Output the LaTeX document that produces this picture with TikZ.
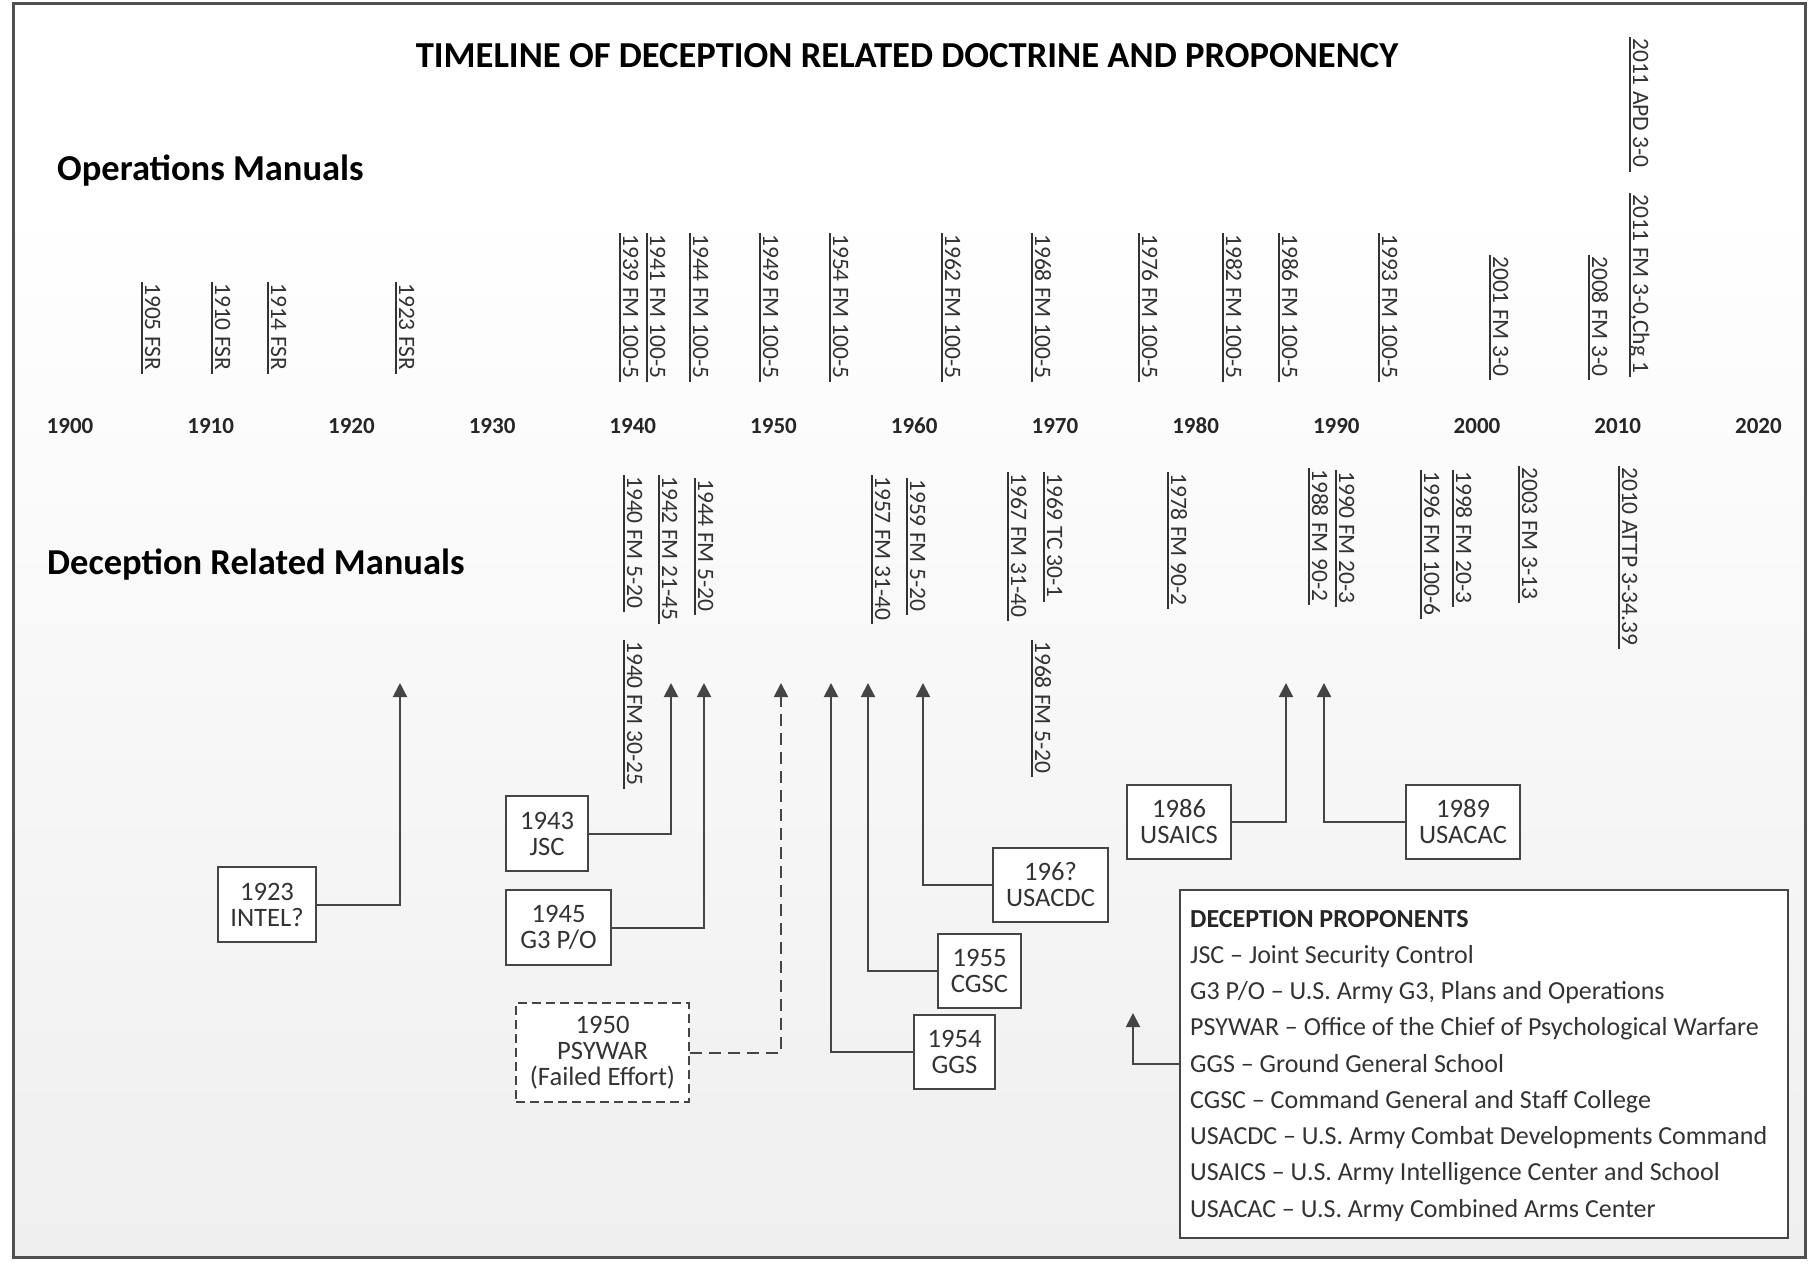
\documentclass[tikz,border=0pt]{standalone}
\usepackage{fontspec}
\setmainfont{Carlito}
\usetikzlibrary{arrows.meta}
\definecolor{linec}{HTML}{454545}
\definecolor{txt}{HTML}{333333}
\definecolor{framec}{HTML}{505050}
\definecolor{bgb}{HTML}{EFEFEF}
\newcommand{\myul}[1]{\setbox0=\hbox{#1}\rlap{\hskip-1pt\color{txt}\rule[-3.6pt]{\dimexpr\wd0+5pt\relax}{1.3pt}}\box0}
\begin{document}
\begin{tikzpicture}[x=1pt,y=-1pt,
  vlab/.style={rotate=-90, inner sep=0pt, anchor=base west, text=txt, font=\fontsize{23.5}{26}\selectfont},
  yearlab/.style={inner sep=0pt, anchor=base, text=black!85, font=\bfseries\fontsize{23}{26}\selectfont},
  hdr/.style={inner sep=0pt, anchor=base west, font=\bfseries\fontsize{36.5}{40}\selectfont},
  pbox/.style={draw=linec, line width=2pt, fill=white, inner sep=0pt, align=center, text=txt, font=\fontsize{26.6}{26}\selectfont},
  arr/.style={draw=linec, line width=2pt, -{Triangle[width=14pt,length=14pt]}},
  dasharr/.style={arr, dash pattern=on 12pt off 7pt},
  legline/.style={inner sep=0pt, anchor=base west, text=txt, font=\fontsize{26}{28}\selectfont}
]
\useasboundingbox (0,0) rectangle (1817,1271);
\fill[white] (0,0) rectangle (1817,1271);
\fill[white] (13,4) rectangle (1805,200);
\shade[top color=white, bottom color=bgb] (13,200) rectangle (1805,1257);
\draw[framec, line width=3pt] (13,4) rectangle (1805,1257);

% titles
\node[inner sep=0pt, anchor=base, font=\bfseries\fontsize{36.6}{40}\selectfont] (title) at (907,68) {TIMELINE OF DECEPTION RELATED DOCTRINE AND PROPONENCY};
\node[hdr] (opsT) at (57,180) {Operations Manuals};
\node[hdr] (decT) at (47,574) {Deception Related Manuals};

% year axis
\foreach \yr in {1900,1910,...,2020}
  \node[yearlab] (yr\yr) at ({70+14.07*(\yr-1900)},433) {\yr};

% operations manuals
\foreach \x/\y/\t [count=\i] in {142/283/1905 FSR, 212/283/1910 FSR, 268/283/1914 FSR, 396/283/1923 FSR,
  620/234/1939 FM 100-5, 647/234/1941 FM 100-5, 690/234/1944 FM 100-5, 760/234/1949 FM 100-5,
  830/234/1954 FM 100-5, 942/234/1962 FM 100-5, 1032/234/1968 FM 100-5, 1139/234/1976 FM 100-5,
  1223/234/1982 FM 100-5, 1279/234/1986 FM 100-5, 1379/234/1993 FM 100-5,
  1490/256/2001 FM 3-0, 1589/256/2008 FM 3-0, 1630/38/2011 APD 3-0}
  \node[vlab] (op\i) at (\x+3,\y) {\myul{\t}};
\node[vlab] (opchg) at (1633,194) {\myul{2011 FM 3-0,Chg 1}};

% deception related manuals
\foreach \x/\y/\t [count=\i] in {624/476/1940 FM 5-20, 659/476/1942 FM 21-45, 695/479/1944 FM 5-20,
  872/476/1957 FM 31-40, 907/479/1959 FM 5-20, 1008/473/1967 FM 31-40, 1044/473/1969 TC 30-1,
  1168/473/1978 FM 90-2, 1309/469/1988 FM 90-2, 1336/471/1990 FM 20-3, 1421/471/1996 FM 100-6,
  1453/471/1998 FM 20-3, 1519/467/2003 FM 3-13, 1619/467/2010 ATTP 3-34.39,
  624/641/1940 FM 30-25, 1032/641/1968 FM 5-20}
  \node[vlab] (dm\i) at (\x+3,\y) {\myul{\t}};

% proponent boxes
\node[pbox, minimum width=98pt, minimum height=75pt] (intel) at (267,904.5) {1923\\INTEL?};
\node[pbox, minimum width=82pt, minimum height=75pt] (jsc) at (547,833.5) {1943\\JSC};
\node[pbox, minimum width=105pt, minimum height=75pt] (gthree) at (558.5,927.5) {1945\\G3 P/O};
\node[pbox, dash pattern=on 9pt off 5pt, minimum width=173pt, minimum height=99pt] (psywar) at (602.5,1052.5) {1950\\PSYWAR\\(Failed Effort)};
\node[pbox, minimum width=81pt, minimum height=74pt] (ggs) at (954.5,1052) {1954\\GGS};
\node[pbox, minimum width=83pt, minimum height=74pt] (cgsc) at (979.5,971) {1955\\CGSC};
\node[pbox, minimum width=115pt, minimum height=74pt] (usacdc) at (1050.5,885) {196?\\USACDC};
\node[pbox, minimum width=104pt, minimum height=74pt] (usaics) at (1179,822) {1986\\USAICS};
\node[pbox, minimum width=114pt, minimum height=74pt] (usacac) at (1463,822) {1989\\USACAC};

% legend
\node[draw=linec, line width=2pt, fill=white, minimum width=608pt, minimum height=348pt, inner sep=0pt] (legend) at (1484,1064) {};
\node[legline, font=\bfseries\fontsize{26}{28}\selectfont, text=black!85] (lg0) at (1190,927) {DECEPTION PROPONENTS};
\foreach \t [count=\i] in {JSC – Joint Security Control,
  G3 P/O – U.S. Army G3{,} Plans and Operations,
  PSYWAR – Office of the Chief of Psychological Warfare,
  GGS – Ground General School,
  CGSC – Command General and Staff College,
  USACDC – U.S. Army Combat Developments Command,
  USAICS – U.S. Army Intelligence Center and School,
  USACAC – U.S. Army Combined Arms Center}
  \node[legline] (lg\i) at (1190,{927+36.25*\i}) {\t};

% arrow tips
\coordinate (tintel) at (400,683);
\coordinate (tjsc) at (671,683);
\coordinate (tgthree) at (704,683);
\coordinate (tpsywar) at (781,683);
\coordinate (tggs) at (831,683);
\coordinate (tcgsc) at (868,683);
\coordinate (tusacdc) at (923,683);
\coordinate (tusaics) at (1286,683);
\coordinate (tusacac) at (1324,683);
\coordinate (tlegend) at (1133,1013);

\draw[arr] (intel.east) -| (tintel);
\draw[arr] (jsc.east) -| (tjsc);
\draw[arr] (gthree.east) -| (tgthree);
\draw[dasharr] (psywar.east) -| (tpsywar);
\draw[arr] (ggs.west) -| (tggs);
\draw[arr] (cgsc.west) -| (tcgsc);
\draw[arr] (usacdc.west) -| (tusacdc);
\draw[arr] (usaics.east) -| (tusaics);
\draw[arr] (usacac.west) -| (tusacac);
\draw[arr] (legend.west) -| (tlegend);
\end{tikzpicture}
\end{document}
